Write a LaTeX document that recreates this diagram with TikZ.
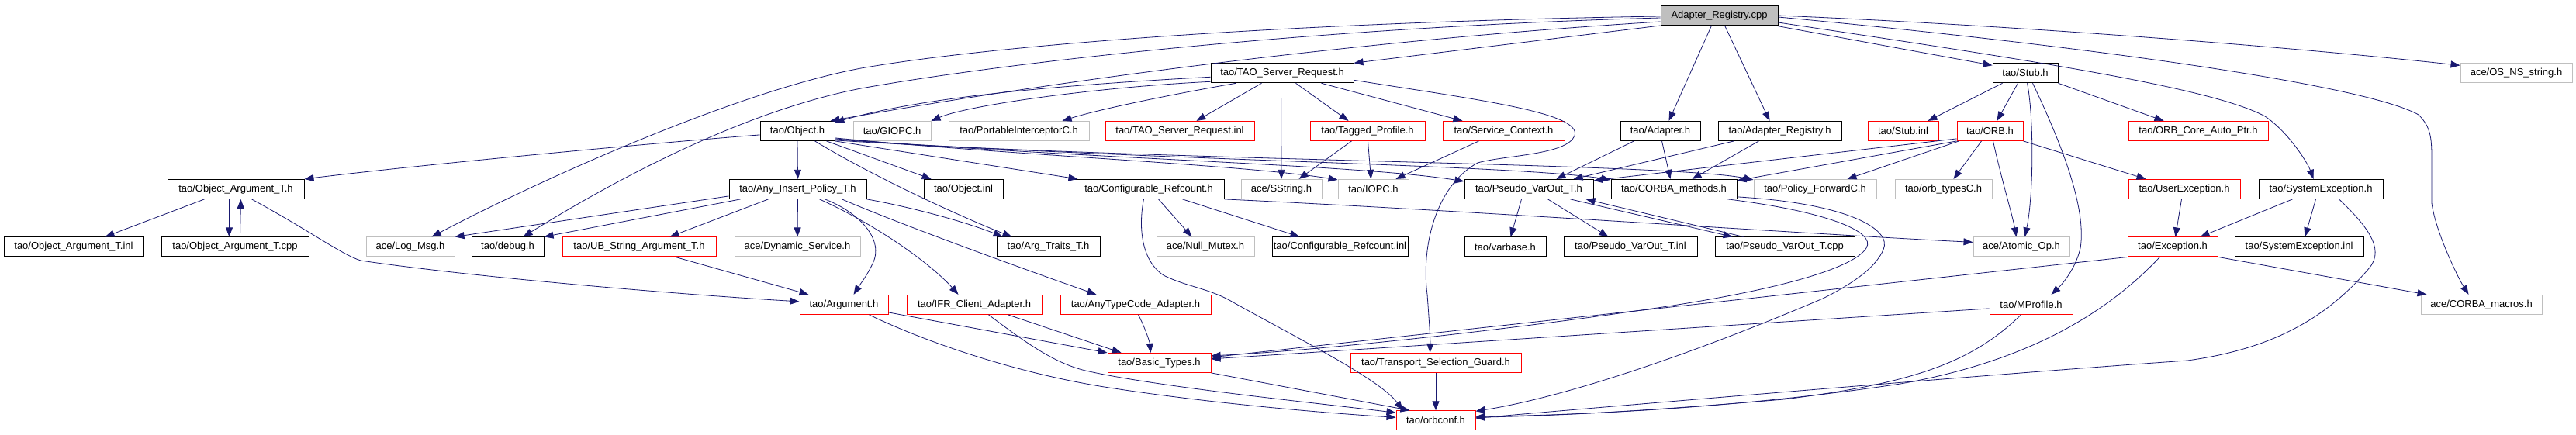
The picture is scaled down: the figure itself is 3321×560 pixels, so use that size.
\documentclass[tikz,border=0pt]{standalone}
\usepackage{fontspec}
\setmainfont{Liberation Sans}
\usetikzlibrary{arrows.meta}
\definecolor{edgecol}{HTML}{191970}
\definecolor{grayb}{HTML}{BFBFBF}
\definecolor{redb}{HTML}{FF0000}
\begin{document}
\begin{tikzpicture}[x=1pt,y=-1pt,
  box/.style={draw, rectangle, inner sep=0pt, minimum height=25pt, line width=1pt, font=\fontsize{13}{15}\selectfont},
  bk/.style={box, draw=black},
  rd/.style={box, draw=redb},
  gy/.style={box, draw=grayb},
  rootbox/.style={box, draw=black, fill=grayb},
  ed/.style={draw=edgecol, line width=0.8pt, -{Triangle[length=12pt,width=9pt]}}]
\fill[white] (0,0) rectangle (3321,560);
\useasboundingbox (0,0) rectangle (3321,560);
% row 0
\node[rootbox,minimum width=151] (arcpp) at (2216.5,20) {Adapter\_Registry.cpp};
% row 1
\node[bk,minimum width=184] (tsrh) at (1653,94.3) {tao/TAO\_Server\_Request.h};
\node[bk,minimum width=84] (stubh) at (2611,94.3) {tao/Stub.h};
\node[gy,minimum width=144] (osns) at (3244,94.3) {ace/OS\_NS\_string.h};
% row 2
\node[bk,minimum width=96] (objh) at (1028,168.9) {tao/Object.h};
\node[gy,minimum width=100] (giopc) at (1150,168.9) {tao/GIOPC.h};
\node[gy,minimum width=181] (pic) at (1313.5,168.9) {tao/PortableInterceptorC.h};
\node[rd,minimum width=192] (tsrinl) at (1521,168.9) {tao/TAO\_Server\_Request.inl};
\node[rd,minimum width=148] (tagged) at (1763,168.9) {tao/Tagged\_Profile.h};
\node[rd,minimum width=157] (svcctx) at (1938.5,168.9) {tao/Service\_Context.h};
\node[bk,minimum width=103] (adapter) at (2140.5,168.9) {tao/Adapter.h};
\node[bk,minimum width=159] (areg) at (2294.5,168.9) {tao/Adapter\_Registry.h};
\node[rd,minimum width=91] (stubinl) at (2453.5,168.9) {tao/Stub.inl};
\node[rd,minimum width=85] (orbh) at (2565.5,168.9) {tao/ORB.h};
\node[rd,minimum width=180] (orbcore) at (2834,168.9) {tao/ORB\_Core\_Auto\_Ptr.h};
% row 3
\node[bk,minimum width=176] (oat) at (304,243.9) {tao/Object\_Argument\_T.h};
\node[bk,minimum width=177] (aip) at (1028.5,243.9) {tao/Any\_Insert\_Policy\_T.h};
\node[bk,minimum width=102] (objinl) at (1242,243.9) {tao/Object.inl};
\node[bk,minimum width=194] (cref) at (1481,243.9) {tao/Configurable\_Refcount.h};
\node[gy,minimum width=104] (sstring) at (1652,243.9) {ace/SString.h};
\node[gy,minimum width=91] (iopc) at (1770.5,243.9) {tao/IOPC.h};
\node[bk,minimum width=166] (pvo) at (1971,243.9) {tao/Pseudo\_VarOut\_T.h};
\node[bk,minimum width=162] (corba) at (2158,243.9) {tao/CORBA\_methods.h};
\node[gy,minimum width=158] (policy) at (2340,243.9) {tao/Policy\_ForwardC.h};
\node[gy,minimum width=125] (orbtypes) at (2505.5,243.9) {tao/orb\_typesC.h};
\node[rd,minimum width=144] (userexc) at (2816,243.9) {tao/UserException.h};
\node[bk,minimum width=160] (sysexc) at (2992,243.9) {tao/SystemException.h};
% row 4
\node[bk,minimum width=180] (oatinl) at (95,318.4) {tao/Object\_Argument\_T.inl};
\node[bk,minimum width=190] (oatcpp) at (303,318.4) {tao/Object\_Argument\_T.cpp};
\node[gy,minimum width=114] (logmsg) at (529,318.4) {ace/Log\_Msg.h};
\node[bk,minimum width=93] (debug) at (654.5,318.4) {tao/debug.h};
\node[rd,minimum width=198] (ubstr) at (824,318.4) {tao/UB\_String\_Argument\_T.h};
\node[gy,minimum width=162] (dynsvc) at (1028,318.4) {ace/Dynamic\_Service.h};
\node[bk,minimum width=133] (argtraits) at (1351.5,318.4) {tao/Arg\_Traits\_T.h};
\node[gy,minimum width=126] (nullmutex) at (1554,318.4) {ace/Null\_Mutex.h};
\node[bk,minimum width=175] (crefinl) at (1727.5,318.4) {tao/Configurable\_Refcount.inl};
\node[bk,minimum width=105] (varbase) at (1940.5,318.4) {tao/varbase.h};
\node[bk,minimum width=172] (pvoinl) at (2102,318.4) {tao/Pseudo\_VarOut\_T.inl};
\node[bk,minimum width=180] (pvocpp) at (2301,318.4) {tao/Pseudo\_VarOut\_T.cpp};
\node[gy,minimum width=124] (atomic) at (2606,318.4) {ace/Atomic\_Op.h};
\node[rd,minimum width=116] (exch) at (2801,318.4) {tao/Exception.h};
\node[bk,minimum width=166] (sysinl) at (2964,318.4) {tao/SystemException.inl};
% row 5
\node[rd,minimum width=114] (argh) at (1088,392.9) {tao/Argument.h};
\node[rd,minimum width=174] (ifr) at (1256,392.9) {tao/IFR\_Client\_Adapter.h};
\node[rd,minimum width=194] (anytc) at (1464,392.9) {tao/AnyTypeCode\_Adapter.h};
\node[rd,minimum width=107] (mprof) at (2618.5,392.9) {tao/MProfile.h};
\node[gy,minimum width=156] (corbamac) at (3199,392.9) {ace/CORBA\_macros.h};
% row 6
\node[rd,minimum width=133] (basic) at (1494.5,467.9) {tao/Basic\_Types.h};
\node[rd,minimum width=220] (tsg) at (1851,467.9) {tao/Transport\_Selection\_Guard.h};
% row 7
\node[rd,minimum width=102] (orbconf) at (1851,542.3) {tao/orbconf.h};

% ---- edges from Adapter_Registry.cpp
\draw[ed] (arcpp.south west) -- (tsrh.north east);
\draw[ed] ([yshift=-14]arcpp.north west) .. controls (1700,28) and (1300,55) .. (1110,88) .. controls (950,118) and (700,230) .. ([xshift=85]logmsg.north west);
\draw[ed] ([yshift=-16]arcpp.north west) .. controls (1700,35) and (1300,80) .. (1110,114) .. controls (950,145) and (780,240) .. ([xshift=67]debug.north west);
\draw[ed] ([yshift=-21]arcpp.north west) .. controls (1700,55) and (1300,115) .. ([xshift=-6]objh.north east);
\draw[ed] ([xshift=66]arcpp.south west) -- ([xshift=63]adapter.north west);
\draw[ed] ([xshift=83]arcpp.south west) -- ([xshift=67]areg.north west);
\draw[ed] ([xshift=148]arcpp.south west) -- ([yshift=-3]stubh.north west);
\draw[ed] ([yshift=-13]arcpp.north east) .. controls (2600,33) and (2950,60) .. ([yshift=-3]osns.north west);
\draw[ed] ([yshift=-15]arcpp.north east) .. controls (2700,60) and (3050,110) .. (3118,148) .. controls (3135,165) and (3135,180) .. (3135,210) -- (3135,262) .. controls (3140,300) and (3170,360) .. ([xshift=62]corbamac.north west);
\draw[ed] ([yshift=-22]arcpp.north east) .. controls (2600,75) and (2850,112) .. (2920,150) .. controls (2950,170) and (2975,210) .. ([xshift=71]sysexc.north west);

% ---- TAO_Server_Request.h
\draw[ed] ([yshift=-18]tsrh.north west) .. controls (1400,108) and (1200,122) .. ([yshift=-2]objh.north east);
\draw[ed] ([yshift=-24]tsrh.north west) .. controls (1420,112) and (1250,135) .. (giopc.north east);
\draw[ed] ([xshift=33]tsrh.south west) .. controls (1520,120) and (1420,140) .. ([xshift=147]pic.north west);
\draw[ed] ([xshift=66]tsrh.south west) -- ([xshift=118]tsrinl.north west);
\draw[ed] ([xshift=91]tsrh.south west) -- (sstring.north);
\draw[ed] ([xshift=110]tsrh.south west) -- ([xshift=50]tagged.north west);
\draw[ed] ([xshift=143]tsrh.south west) -- ([xshift=26]svcctx.north west);
\draw[ed] ([yshift=-22]tsrh.north east) .. controls (1900,128) and (2040,145) .. (2030,175) .. controls (2020,200) and (1940,200) .. (1905,210) .. controls (1850,240) and (1832,320) .. (1840,380) .. controls (1843,420) and (1844,440) .. ([xshift=103]tsg.north west);

% ---- Object.h
\draw[ed] ([yshift=-18]objh.north west) .. controls (800,188) and (520,215) .. (oat.north east);
\draw[ed] (objh.south) -- (aip.north);
\draw[ed] ([xshift=71]objh.south west) .. controls (1130,230) and (1240,280) .. ([xshift=20]argtraits.north west);
\draw[ed] ([xshift=86]objh.south west) -- ([xshift=10]objinl.north west);
\draw[ed] (objh.south east) -- ([xshift=6]cref.north west);
\draw[ed] ([yshift=-22]objh.north east) .. controls (1300,200) and (1600,212) .. ([yshift=-1]iopc.north west);
\draw[ed] ([yshift=-23]objh.north east) .. controls (1400,205) and (1750,212) .. ([yshift=-3]pvo.north west);
\draw[ed] ([yshift=-24]objh.north east) .. controls (1450,206) and (1950,212) .. ([yshift=-1]corba.north west);
\draw[ed] ([yshift=-25]objh.north east) .. controls (1500,208) and (2150,210) .. ([yshift=-1]policy.north west);

% ---- Configurable_Refcount.h
\draw[ed] ([xshift=110]cref.south west) -- ([xshift=46]nullmutex.north west);
\draw[ed] ([xshift=141]cref.south west) -- ([xshift=36]crefinl.north west);
\draw[ed] (cref.south east) .. controls (1900,272) and (2300,300) .. ([yshift=-7]atomic.north west);
\draw[ed] ([xshift=91]cref.south west) .. controls (1468,290) and (1470,335) .. (1500,355) .. controls (1530,370) and (1560,372) .. (1590,390) .. controls (1680,440) and (1780,490) .. ([xshift=9]orbconf.north west);

% ---- Any_Insert_Policy_T.h
\draw[ed] ([yshift=-22]aip.north west) -- (logmsg.north east);
\draw[ed] ([xshift=15]aip.south west) -- (debug.north east);
\draw[ed] ([xshift=51]aip.south west) -- ([xshift=139]ubstr.north west);
\draw[ed] (aip.south) -- (dynsvc.north);
\draw[ed] ([xshift=124]aip.south west) .. controls (1110,275) and (1140,310) .. (1125,340) .. controls (1118,355) and (1108,368) .. ([xshift=70]argh.north west);
\draw[ed] (aip.south east) .. controls (1180,268) and (1250,288) .. ([xshift=8]argtraits.north west);
\draw[ed] ([xshift=117]aip.south west) .. controls (1130,290) and (1200,340) .. ([xshift=67]ifr.north west);
\draw[ed] ([xshift=146]aip.south west) .. controls (1150,285) and (1300,340) .. ([xshift=47]anytc.north west);

% ---- Object_Argument_T.h
\draw[ed] ([xshift=48]oat.south west) -- ([xshift=131]oatinl.north west);
\draw[ed] ([xshift=80]oat.south west) -- ([xshift=88]oatcpp.north west);
\draw[ed] ([xshift=102]oatcpp.north west) -- ([xshift=95]oat.south west);
\draw[ed] ([xshift=109]oat.south west) .. controls (400,298) and (440,328) .. (465,336) .. controls (600,356) and (850,378) .. ([yshift=-9]argh.north west);

% ---- Argument family
\draw[ed] ([xshift=146]ubstr.south west) -- ([xshift=12]argh.north west);
\draw[ed] ([yshift=-23]argh.north east) -- (basic.north west);
\draw[ed] ([xshift=90]argh.south west) .. controls (1180,435) and (1300,480) .. (1430,500) .. controls (1560,520) and (1700,532) .. ([yshift=-9]orbconf.north west);
\draw[ed] ([xshift=131]ifr.south west) -- ([xshift=18]basic.north west);
\draw[ed] ([xshift=106]ifr.south west) .. controls (1320,440) and (1360,470) .. (1404,479) .. controls (1500,500) and (1700,520) .. ([yshift=-3]orbconf.north west);
\draw[ed] ([xshift=101]anytc.south west) .. controls (1475,420) and (1482,440) .. ([xshift=56]basic.north west);
\draw[ed] (basic.south east) -- ([xshift=18]orbconf.north west);
\draw[ed] (tsg.south) -- (orbconf.north);

% ---- row 2 -> row 3
\draw[ed] ([xshift=54]tagged.south west) -- ([xshift=75]sstring.north west);
\draw[ed] ([xshift=75]tagged.south west) -- ([xshift=43]iopc.north west);
\draw[ed] ([xshift=47]svcctx.south west) -- ([xshift=75]iopc.north west);
\draw[ed] ([xshift=18]adapter.south west) -- ([xshift=119]pvo.north west);
\draw[ed] ([xshift=54]adapter.south west) -- ([xshift=77]corba.north west);
\draw[ed] ([xshift=21]areg.south west) -- ([xshift=141]pvo.north west);
\draw[ed] ([xshift=53]areg.south west) -- ([xshift=105]corba.north west);

% ---- ORB.h
\draw[ed] ([yshift=-23]orbh.north west) -- ([yshift=-2]pvo.north east);
\draw[ed] (orbh.south west) -- ([yshift=-2]corba.north east);
\draw[ed] ([xshift=3]orbh.south west) -- ([xshift=121]policy.north west);
\draw[ed] ([xshift=32]orbh.south west) -- ([xshift=76]orbtypes.north west);
\draw[ed] ([xshift=47]orbh.south west) .. controls (2580,230) and (2595,280) .. ([xshift=56]atomic.north west);
\draw[ed] (orbh.south east) -- ([xshift=23]userexc.north west);

% ---- Stub.h
\draw[ed] ([xshift=13]stubh.south west) -- ([xshift=78]stubinl.north west);
\draw[ed] ([xshift=33]stubh.south west) -- ([xshift=52]orbh.north west);
\draw[ed] ([xshift=45]stubh.south west) .. controls (2622,150) and (2622,250) .. ([xshift=67]atomic.north west);
\draw[ed] ([xshift=52]stubh.south west) .. controls (2660,190) and (2690,270) .. (2682,320) .. controls (2675,350) and (2655,370) .. ([xshift=80]mprof.north west);
\draw[ed] (stubh.south east) -- ([xshift=46]orbcore.north west);

% ---- Exceptions
\draw[ed] ([xshift=69]userexc.south west) -- ([xshift=62]exch.north west);
\draw[ed] ([xshift=44]sysexc.south west) -- ([xshift=94]exch.north west);
\draw[ed] ([xshift=74]sysexc.south west) -- ([xshift=91]sysinl.north west);
\draw[ed] ([xshift=104]sysexc.south west) .. controls (3050,290) and (3075,320) .. (3055,345) .. controls (3000,410) and (2930,450) .. (2820,465) .. controls (2600,480) and (2100,522) .. ([yshift=-10]orbconf.north east);
\draw[ed] (exch.south east) -- ([xshift=8]corbamac.north west);
\draw[ed] ([xshift=1]exch.south west) -- ([yshift=-6]basic.north east);
\draw[ed] ([xshift=42]exch.south west) .. controls (2720,400) and (2620,465) .. (2450,495) .. controls (2250,525) and (2050,535) .. ([yshift=-8]orbconf.north east);

% ---- MProfile.h
\draw[ed] ([yshift=-18]mprof.north west) -- ([yshift=-8]basic.north east);
\draw[ed] ([xshift=41]mprof.south west) .. controls (2540,470) and (2460,495) .. (2300,515) .. controls (2100,532) and (2000,536) .. ([yshift=-9]orbconf.north east);

% ---- CORBA_methods.h
\draw[ed] ([xshift=151]corba.south west) .. controls (2350,272) and (2420,298) .. (2406,320) .. controls (2390,345) and (2300,372) .. (2150,395) .. controls (1950,425) and (1700,452) .. ([yshift=-4]basic.north east);
\draw[ed] ([yshift=-23]corba.north east) .. controls (2380,262) and (2440,295) .. (2428,322) .. controls (2418,345) and (2390,365) .. (2350,385) .. controls (2150,470) and (2000,515) .. ([yshift=-1]orbconf.north east);

% ---- Pseudo_VarOut_T.h
\draw[ed] ([xshift=74]pvo.south west) -- ([xshift=60]varbase.north west);
\draw[ed] ([xshift=108]pvo.south west) -- ([xshift=58]pvoinl.north west);
\draw[ed] ([xshift=137]pvo.south west) -- ([xshift=23]pvocpp.north west);
\draw[ed] ([xshift=37]pvocpp.north west) -- ([xshift=157]pvo.south west);
\end{tikzpicture}
\end{document}
